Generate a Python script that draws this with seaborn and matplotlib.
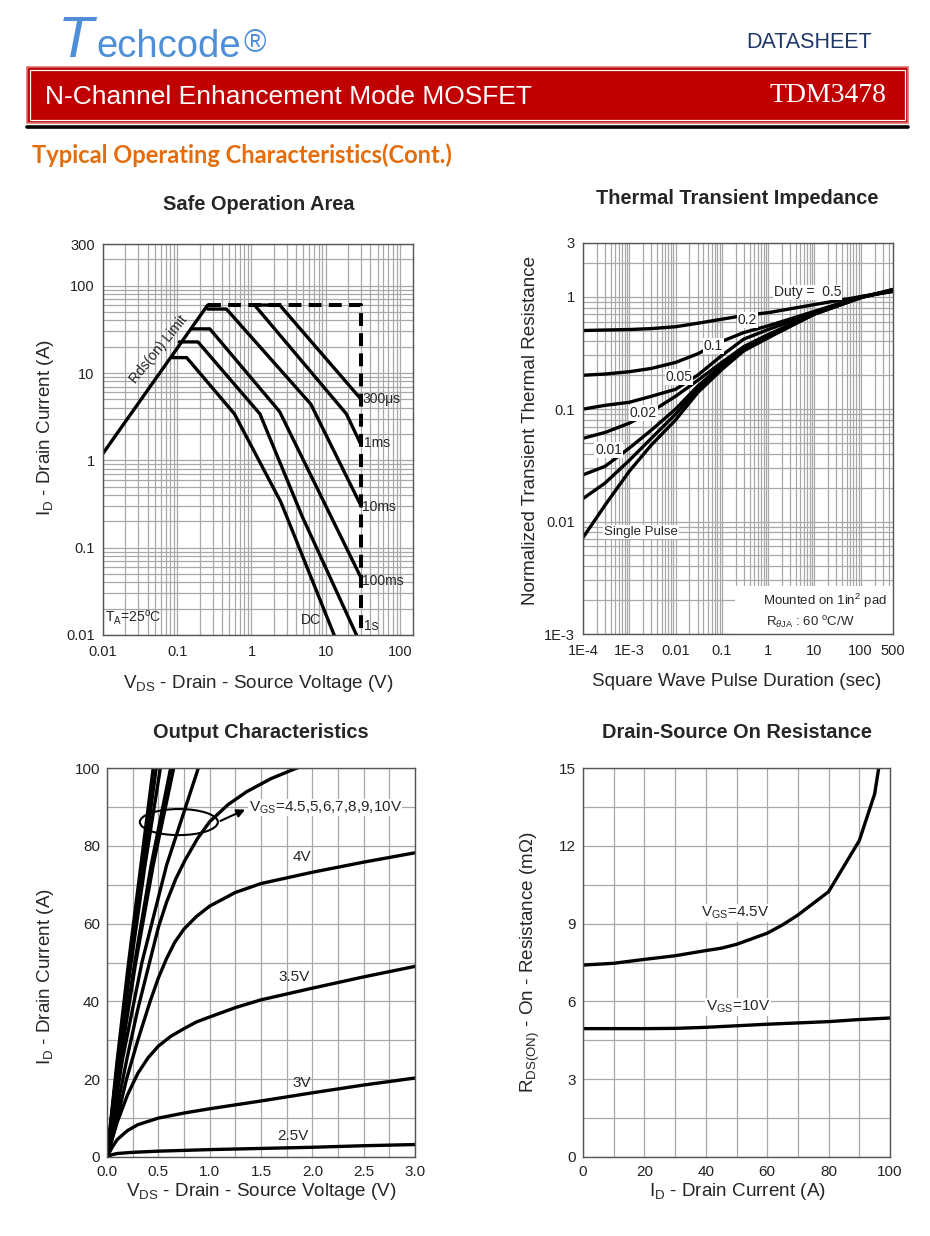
import matplotlib.pyplot as plt
import seaborn as sns
from matplotlib.patches import Rectangle, Ellipse
from matplotlib.lines import Line2D
from matplotlib.ticker import FixedLocator, NullFormatter, MultipleLocator, FormatStrFormatter

# ---------------- data ----------------
# Safe operation area (VDS in V, ID in A)
soa_rds_v = [0.01, 0.257]
soa_rds_i = [1.2, 60]
soa_limit_v = [0.257, 30, 30]
soa_limit_i = [60, 60, 0.01]
soa_300us_v = [1.15, 2.4, 30]
soa_300us_i = [60, 60, 5.0]
soa_1ms_v = [1.1, 19, 30]
soa_1ms_i = [60, 3.4, 1.5]
soa_10ms_v = [0.257, 0.46, 6.3, 30]
soa_10ms_i = [54, 54, 4.4, 0.3]
soa_100ms_v = [0.155, 0.275, 2.4, 30]
soa_100ms_i = [32, 32, 3.6, 0.045]
soa_1s_v = [0.107, 0.19, 1.3, 4.8, 26]
soa_1s_i = [22.7, 22.7, 3.4, 0.23, 0.01]
soa_dc_v = [0.085, 0.134, 0.59, 2.5, 13]
soa_dc_i = [15, 15, 3.4, 0.33, 0.01]

# Thermal transient impedance (pulse duration in s, normalized Zth)
th_t = [1e-4, 3e-4, 1e-3, 3e-3, 1e-2, 3e-2, 1e-1, 3e-1, 1, 10, 100, 500]
th_d05 = [0.50, 0.505, 0.51, 0.52, 0.54, 0.58, 0.63, 0.68, 0.72, 0.85, 1.00, 1.11]
th_d02 = [0.20, 0.205, 0.215, 0.23, 0.26, 0.31, 0.40, 0.48, 0.55, 0.74, 1.00, 1.12]
th_d01 = [0.10, 0.108, 0.115, 0.13, 0.15, 0.20, 0.30, 0.42, 0.51, 0.72, 0.99, 1.13]
th_d005 = [0.055, 0.062, 0.075, 0.095, 0.13, 0.18, 0.26, 0.36, 0.46, 0.71, 0.99, 1.14]
th_d002 = [0.026, 0.031, 0.045, 0.065, 0.10, 0.16, 0.245, 0.35, 0.45, 0.70, 0.98, 1.15]
th_d001 = [0.016, 0.022, 0.035, 0.055, 0.09, 0.15, 0.235, 0.34, 0.44, 0.70, 0.98, 1.15]
th_single = [0.0072, 0.014, 0.028, 0.048, 0.08, 0.14, 0.225, 0.33, 0.43, 0.70, 0.98, 1.16]

# Output characteristics (VDS in V, ID in A)
out_curves = {
    "10V": ([0, 0.10, 0.21, 0.33, 0.45], [0, 25, 50, 75, 100]),
    "9V": ([0, 0.105, 0.22, 0.35, 0.48], [0, 25, 50, 75, 100]),
    "8V": ([0, 0.11, 0.235, 0.37, 0.52], [0, 25, 50, 75, 100]),
    "7V": ([0, 0.125, 0.27, 0.43, 0.62], [0, 25, 50, 75, 100]),
    "6V": ([0, 0.13, 0.28, 0.45, 0.65], [0, 25, 50, 75, 100]),
    "5V": ([0, 0.15, 0.34, 0.58, 0.89], [0, 25, 50, 75, 100]),
    "4.5V": ([0, 0.1, 0.2, 0.3, 0.42, 0.5, 0.58, 0.67, 0.76, 0.88, 1.0, 1.18, 1.36, 1.6, 1.85, 2.0],
             [0, 13, 26, 38, 50.6, 59, 65.5, 71.5, 76.3, 81.8, 86.2, 90.6, 93.9, 97.3, 100, 101]),
    "4V": ([0, 0.05, 0.1, 0.19, 0.3, 0.42, 0.5, 0.58, 0.66, 0.75, 0.87, 1.0, 1.25, 1.5, 2.0, 2.5, 3.0],
           [0, 5, 10, 20, 30, 40, 46, 51, 55.2, 58.6, 61.8, 64.5, 68, 70.3, 73.2, 75.8, 78.2]),
    "3.5V": ([0, 0.05, 0.1, 0.2, 0.3, 0.4, 0.5, 0.62, 0.75, 0.87, 1.0, 1.25, 1.5, 2.0, 2.5, 3.0],
             [0, 4.5, 9, 16, 21.5, 25.5, 28.5, 31, 33, 34.7, 36, 38.4, 40.4, 43.4, 46.3, 49]),
    "3V": ([0, 0.05, 0.1, 0.2, 0.3, 0.5, 0.75, 1.0, 1.5, 2.0, 2.5, 3.0],
           [0, 2.5, 4.5, 6.8, 8.3, 10, 11.3, 12.4, 14.4, 16.5, 18.5, 20.3]),
    "2.5V": ([0, 0.05, 0.1, 0.25, 0.5, 1.0, 1.5, 2.0, 2.5, 3.0],
             [0, 0.6, 0.9, 1.2, 1.5, 1.9, 2.2, 2.5, 2.9, 3.2]),
}

# Drain-source on resistance (ID in A, RDS(on) in mOhm)
rds_id_45 = [0, 10, 20, 30, 40, 45, 50, 60, 65, 70, 80, 90, 95, 97]
rds_45 = [7.4, 7.47, 7.62, 7.76, 7.96, 8.05, 8.2, 8.63, 8.95, 9.33, 10.23, 12.2, 14.0, 15.5]
rds_id_10 = [0, 10, 20, 30, 40, 50, 60, 70, 80, 90, 100]
rds_10 = [4.95, 4.95, 4.95, 4.96, 5.0, 5.06, 5.12, 5.17, 5.22, 5.3, 5.36]

# ---------------- style ----------------
sns.set_theme(style="white")
plt.rcParams["font.family"] = ["Liberation Sans", "DejaVu Sans"]
plt.rcParams["mathtext.fontset"] = "custom"
plt.rcParams["mathtext.rm"] = "Liberation Sans"
plt.rcParams["mathtext.it"] = "Liberation Sans:italic"
plt.rcParams["mathtext.bf"] = "Liberation Sans:bold"

W, H = 930, 1236
fig = plt.figure(figsize=(W / 100, H / 100), dpi=100)


def fx(x):
    return x / W


def fy(y):
    return 1 - y / H


def add_ax(left, top, right, bottom):
    return fig.add_axes([fx(left), fy(bottom), (right - left) / W, (bottom - top) / H])


LW = 2.4
LAB_FS = 13.6
TITLE_FS = 14.4
GRID = "#a8a8a8"


def style_ax(ax, fs=10.5):
    ax.tick_params(which="both", length=0, labelsize=fs, colors="#222222")
    ax.tick_params(axis="x", pad=7)
    ax.tick_params(axis="y", pad=6)
    for s in ax.spines.values():
        s.set_color("#555555")
        s.set_linewidth(1.0)
    ax.grid(which="both", color=GRID, lw=0.9)
    ax.set_axisbelow(True)


def curve(ax, x, y, **kw):
    kw.setdefault("color", "black")
    kw.setdefault("lw", LW)
    sns.lineplot(x=x, y=y, ax=ax, estimator=None, sort=False, legend=False, **kw)


# ---------------- header ----------------
fig.text(fx(58), fy(57), "T", fontsize=42, style="italic", color="#4f8fd8", va="baseline", ha="left")
fig.text(fx(96), fy(57), "echcode", fontsize=27.5, color="#4f8fd8", va="baseline", ha="left")
fig.text(fx(243), fy(52), "®", fontsize=22, color="#4f8fd8", va="baseline", ha="left")
fig.text(fx(872), fy(43), "DATASHEET", fontsize=15.5, color="#1f3a68", va="center", ha="right")

fig.patches.append(Rectangle((fx(27), fy(123)), 881 / W, 56 / H, transform=fig.transFigure,
                             facecolor="#c00000", edgecolor="#e07070", lw=1.2))
fig.patches.append(Rectangle((fx(30), fy(120)), 875 / W, 50 / H, transform=fig.transFigure,
                             facecolor="none", edgecolor="white", lw=0.9))
fig.lines.append(Line2D([fx(27), fx(908)], [fy(127), fy(127)], transform=fig.transFigure,
                        color="black", lw=2.6))
fig.text(fx(45), fy(97), "N-Channel Enhancement Mode MOSFET", fontsize=19, color="white",
         va="center", ha="left")
fig.text(fx(886), fy(96), "TDM3478", fontsize=20, color="white", va="center", ha="right",
         family="Liberation Serif")
fig.text(fx(32), fy(155), "Typical Operating Characteristics(Cont.)", fontsize=17,
         fontweight="bold", color="#e46c0a", va="center", ha="left", family="Lato")

# ---------------- Safe operation area ----------------
ax1 = add_ax(103, 244, 413, 635)
ax1.set_xscale("log")
ax1.set_yscale("log")
curve(ax1, soa_limit_v, soa_limit_i, lw=2.9, linestyle=(0, (3.2, 1.8)))
curve(ax1, soa_rds_v, soa_rds_i)
for v, i in [(soa_300us_v, soa_300us_i), (soa_1ms_v, soa_1ms_i), (soa_10ms_v, soa_10ms_i),
             (soa_100ms_v, soa_100ms_i), (soa_1s_v, soa_1s_i), (soa_dc_v, soa_dc_i)]:
    curve(ax1, v, i)
ax1.set_xlim(0.01, 150)
ax1.set_ylim(0.01, 300)
ax1.xaxis.set_major_locator(FixedLocator([0.01, 0.1, 1, 10, 100]))
ax1.set_xticklabels(["0.01", "0.1", "1", "10", "100"])
ax1.yaxis.set_major_locator(FixedLocator([0.01, 0.1, 1, 10, 100, 300]))
ax1.set_yticklabels(["0.01", "0.1", "1", "10", "100", "300"])
ax1.xaxis.set_minor_formatter(NullFormatter())
ax1.yaxis.set_minor_formatter(NullFormatter())
style_ax(ax1)
ax1.set_xlabel("")
ax1.set_ylabel("")
txt_kw = dict(fontsize=10, ha="left", va="center")
ax1.text(31, 5.0, "300μs", **txt_kw)
ax1.text(33, 1.6, "1ms", **txt_kw)
ax1.text(31, 0.29, "10ms", **txt_kw)
ax1.text(31, 0.042, "100ms", **txt_kw)
ax1.text(33, 0.0126, "1s", **txt_kw)
ax1.text(6.4, 0.015, "DC", fontsize=10, ha="center", va="center")
ax1.text(0.0107, 0.0157, "T$_\\mathrm{A}$=25$^\\mathrm{o}$C", **txt_kw)
ax1.text(0.057, 18.5, "Rds(on) Limit", fontsize=10, rotation=51, ha="center", va="center")
fig.text(fx(259), fy(204), "Safe Operation Area", fontsize=TITLE_FS, fontweight="bold",
         ha="center", va="center")
fig.text(fx(258), fy(684), "V$_\\mathrm{DS}$ - Drain - Source Voltage (V)", fontsize=LAB_FS,
         ha="center", va="center")
fig.text(fx(45), fy(428), "I$_\\mathrm{D}$ - Drain Current (A)", fontsize=LAB_FS,
         ha="center", va="center", rotation=90)

# ---------------- Thermal transient impedance ----------------
ax2 = add_ax(583, 243, 893, 634)
ax2.set_xscale("log")
ax2.set_yscale("log")
for z in [th_d05, th_d02, th_d01, th_d005, th_d002, th_d001, th_single]:
    curve(ax2, th_t, z)
ax2.set_xlim(1e-4, 500)
ax2.set_ylim(1e-3, 3)
ax2.xaxis.set_major_locator(FixedLocator([1e-4, 1e-3, 1e-2, 0.1, 1, 10, 100, 500]))
ax2.set_xticklabels(["1E-4", "1E-3", "0.01", "0.1", "1", "10", "100", "500"])
ax2.yaxis.set_major_locator(FixedLocator([1e-3, 0.01, 0.1, 1, 3]))
ax2.set_yticklabels(["1E-3", "0.01", "0.1", "1", "3"])
ax2.xaxis.set_minor_formatter(NullFormatter())
ax2.yaxis.set_minor_formatter(NullFormatter())
style_ax(ax2)
ax2.add_patch(Rectangle((0.19, 1e-3), 500, 0.00168, fc="white", ec="none", zorder=1))
wb = dict(fc="white", ec="none", pad=0.6)
ax2.text(7.2, 1.09, "Duty =  0.5", fontsize=10, ha="center", va="center", bbox=wb)
ax2.text(0.36, 0.62, "0.2", fontsize=10, ha="center", va="center", bbox=wb)
ax2.text(0.065, 0.365, "0.1", fontsize=10, ha="center", va="center", bbox=wb)
ax2.text(0.0118, 0.193, "0.05", fontsize=10, ha="center", va="center", bbox=wb)
ax2.text(0.002, 0.092, "0.02", fontsize=10, ha="center", va="center", bbox=wb)
ax2.text(3.6e-4, 0.043, "0.01", fontsize=10, ha="center", va="center", bbox=wb)
ax2.text(1.8e-3, 0.0081, "Single Pulse", fontsize=9.5, ha="center", va="center", bbox=wb)
ax2.text(17, 0.00197, "Mounted on 1in$^2$ pad", fontsize=9.5, ha="center", va="center")
ax2.text(8, 0.00126, "R$_{\\theta\\mathrm{JA}}$ : 60 $^\\mathrm{o}$C/W", fontsize=9.5,
         ha="center", va="center")
fig.text(fx(737), fy(198), "Thermal Transient Impedance", fontsize=TITLE_FS, fontweight="bold",
         ha="center", va="center")
fig.text(fx(737), fy(681), "Square Wave Pulse Duration (sec)", fontsize=LAB_FS,
         ha="center", va="center")
fig.text(fx(530), fy(430), "Normalized Transient Thermal Resistance", fontsize=LAB_FS,
         ha="center", va="center", rotation=90)

# ---------------- Output characteristics ----------------
ax3 = add_ax(107, 768, 415, 1157)
for name, (v, i) in out_curves.items():
    curve(ax3, v, i)
ax3.set_xlim(0, 3)
ax3.set_ylim(0, 100)
ax3.xaxis.set_major_locator(MultipleLocator(0.5))
ax3.xaxis.set_minor_locator(MultipleLocator(0.25))
ax3.xaxis.set_major_formatter(FormatStrFormatter("%.1f"))
ax3.yaxis.set_major_locator(MultipleLocator(20))
ax3.yaxis.set_minor_locator(MultipleLocator(10))
style_ax(ax3, fs=11)
ax3.tick_params(axis="x", pad=5.5)
ax3.tick_params(axis="y", pad=5)
ax3.add_patch(Ellipse((0.70, 86.1), 0.76, 6.7, fc="none", ec="black", lw=1.5, zorder=3))
ax3.annotate("", xy=(1.37, 89.6), xytext=(1.08, 86.1),
             arrowprops=dict(arrowstyle="-|>", color="black", lw=1.5, mutation_scale=12))
ax3.text(1.38, 89.8, "V$_\\mathrm{GS}$=4.5,5,6,7,8,9,10V", fontsize=11, ha="left", va="center",
         bbox=dict(fc="white", ec="none", pad=0.3))
ax3.text(1.9, 77.2, "4V", fontsize=11, ha="center", va="center")
ax3.text(1.82, 46.3, "3.5V", fontsize=11, ha="center", va="center")
ax3.text(1.9, 19.0, "3V", fontsize=11, ha="center", va="center")
ax3.text(1.81, 5.4, "2.5V", fontsize=11, ha="center", va="center")
fig.text(fx(261), fy(733), "Output Characteristics", fontsize=TITLE_FS, fontweight="bold",
         ha="center", va="center")
fig.text(fx(261), fy(1192), "V$_\\mathrm{DS}$ - Drain - Source Voltage (V)", fontsize=LAB_FS,
         ha="center", va="center")
fig.text(fx(45), fy(977), "I$_\\mathrm{D}$ - Drain Current (A)", fontsize=LAB_FS,
         ha="center", va="center", rotation=90)

# ---------------- Drain-source on resistance ----------------
ax4 = add_ax(583, 768, 890, 1157)
curve(ax4, rds_id_45, rds_45)
curve(ax4, rds_id_10, rds_10)
ax4.set_xlim(0, 100)
ax4.set_ylim(0, 15)
ax4.xaxis.set_major_locator(MultipleLocator(20))
ax4.xaxis.set_minor_locator(MultipleLocator(10))
ax4.yaxis.set_major_locator(MultipleLocator(3))
ax4.yaxis.set_minor_locator(MultipleLocator(1.5))
style_ax(ax4, fs=11)
ax4.tick_params(axis="x", pad=5.5)
ax4.tick_params(axis="y", pad=5)
ax4.text(49.5, 9.41, "V$_\\mathrm{GS}$=4.5V", fontsize=11, ha="center", va="center",
         bbox=dict(fc="white", ec="none", pad=0.5))
ax4.text(50.5, 5.78, "V$_\\mathrm{GS}$=10V", fontsize=11, ha="center", va="center",
         bbox=dict(fc="white", ec="none", pad=0.5))
fig.text(fx(737), fy(733), "Drain-Source On Resistance", fontsize=TITLE_FS, fontweight="bold",
         ha="center", va="center")
fig.text(fx(737), fy(1192), "I$_\\mathrm{D}$ - Drain Current (A)", fontsize=LAB_FS,
         ha="center", va="center")
fig.text(fx(530), fy(962), "R$_\\mathrm{DS(ON)}$ - On - Resistance (mΩ)", fontsize=LAB_FS,
         ha="center", va="center", rotation=90)

fig.savefig("out.png", dpi=100)
